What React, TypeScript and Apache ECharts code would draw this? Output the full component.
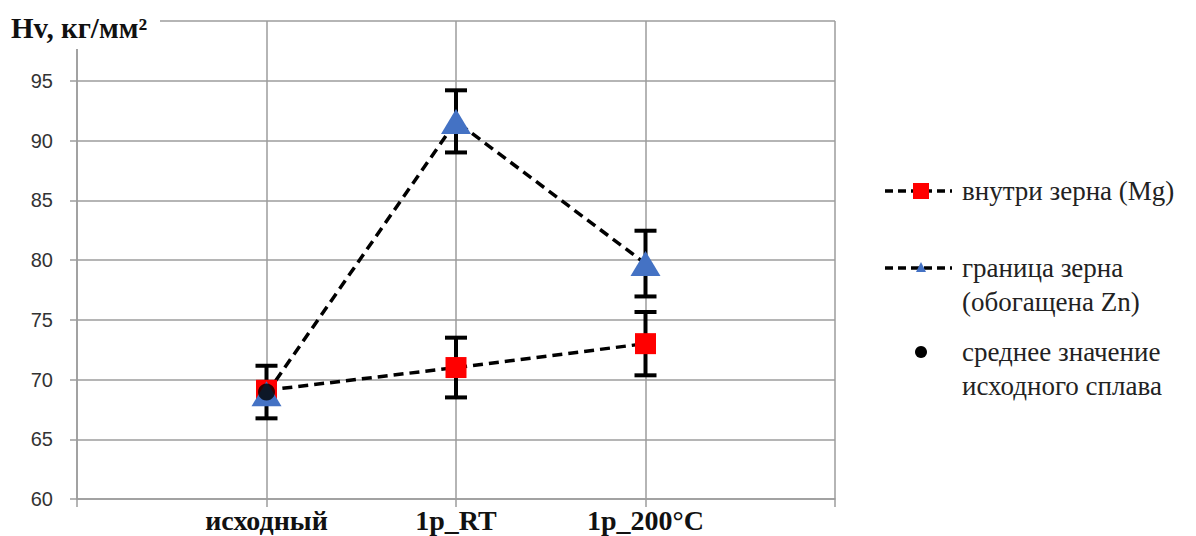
import React, { useEffect, useRef } from "react";
import * as echarts from "echarts";

const categories = ["исходный", "1p_RT", "1p_200°C"];
const grainValues = [69.1, 71.0, 73.0];
const grainErrors = [null, 2.5, 2.65];
const boundaryValues = [68.8, 91.6, 79.7];
const boundaryErrors = [null, 2.6, 2.75];
const avgValues = [68.95];
const avgErrors = [2.2];
const yTicks = { min: 60, max: 100, interval: 5 };

const SERIF = "Liberation Serif";
const SANS = "Liberation Sans";

function buildOption() {
  const axisCats = ["", ...categories, ""];
  const toPts = (vals: number[]) => vals.map((v, i) => [i + 1, v]);
  const errData: number[][] = [];
  const addErr = (vals: number[], errs: (number | null)[]) =>
    vals.forEach((v, i) => {
      const e = errs[i];
      if (e != null) errData.push([i + 1, v - e, v + e]);
    });
  addErr(grainValues, grainErrors);
  addErr(boundaryValues, boundaryErrors);
  addErr(avgValues, avgErrors);

  const dash = [10, 6];
  const gridColor = "#9c9c9c";
  const LFS = 27;
  const legendText = (text: string, cy: number) => ({
    type: "text",
    x: 962,
    y: cy - LFS / 2,
    style: { text, fontFamily: SERIF, fontSize: LFS, fill: "#222" },
  });
  return {
    animation: false,
    grid: { left: 77, top: 21, right: 361, bottom: 37 },
    xAxis: {
      type: "category",
      data: axisCats,
      boundaryGap: false,
      axisLine: { lineStyle: { color: gridColor, width: 1.5 } },
      axisTick: { show: true, length: 8, interval: 0, lineStyle: { color: gridColor, width: 1.5 } },
      splitLine: { show: true, interval: 0, lineStyle: { color: gridColor, width: 1.5 } },
      axisLabel: {
        interval: 0,
        margin: 7,
        fontFamily: SERIF,
        fontWeight: "bold",
        fontSize: 28,
        color: "#111",
      },
    },
    yAxis: {
      type: "value",
      min: yTicks.min,
      max: yTicks.max,
      interval: yTicks.interval,
      axisLine: { show: true, lineStyle: { color: gridColor, width: 1.5 } },
      axisTick: { show: true, length: 7, lineStyle: { color: gridColor, width: 1.5 } },
      splitLine: { show: true, lineStyle: { color: gridColor, width: 1.5 } },
      axisLabel: {
        margin: 24,
        fontFamily: SANS,
        fontSize: 20,
        color: "#333",
        formatter: (v: number) => (v === yTicks.max ? "" : String(v)),
      },
    },
    series: [
      {
        type: "custom",
        name: "errors",
        z: 2,
        data: errData,
        renderItem: (params: any, api: any) => {
          const x = api.value(0);
          const top = api.coord([x, api.value(2)]);
          const bot = api.coord([x, api.value(1)]);
          const hw = 11;
          const st = { stroke: "#000", lineWidth: 4 };
          return {
            type: "group",
            children: [
              { type: "line", shape: { x1: top[0], y1: top[1], x2: bot[0], y2: bot[1] }, style: st },
              { type: "line", shape: { x1: top[0] - hw, y1: top[1], x2: top[0] + hw, y2: top[1] }, style: st },
              { type: "line", shape: { x1: bot[0] - hw, y1: bot[1], x2: bot[0] + hw, y2: bot[1] }, style: st },
            ],
          };
        },
      },
      {
        type: "line",
        name: "внутри зерна (Mg)",
        z: 3,
        data: toPts(grainValues),
        symbol: "rect",
        symbolSize: 21,
        itemStyle: { color: "#ff0000" },
        lineStyle: { color: "#000", width: 3.5, type: dash },
      },
      {
        type: "line",
        name: "граница зерна (обогащена Zn)",
        z: 3,
        data: toPts(boundaryValues),
        symbol: "triangle",
        symbolSize: [30, 25],
        itemStyle: { color: "#4472c4" },
        lineStyle: { color: "#000", width: 3.5, type: dash },
      },
      {
        type: "scatter",
        name: "среднее значение исходного сплава",
        z: 4,
        data: toPts(avgValues),
        symbol: "circle",
        symbolSize: 17,
        itemStyle: { color: "#000" },
      },
    ],
    graphic: [
      { type: "rect", shape: { x: 0, y: 0, width: 160, height: 49 }, style: { fill: "#fff" }, z: 50 },
      {
        type: "text",
        x: 11,
        y: 13,
        z: 51,
        style: { text: "Hv, кг/мм²", fontFamily: SERIF, fontWeight: "bold", fontSize: 29, fill: "#111" },
      },
      { type: "line", shape: { x1: 885, y1: 191, x2: 952, y2: 191 }, style: { stroke: "#000", lineWidth: 3.5, lineDash: [8, 5] } },
      { type: "rect", shape: { x: 913, y: 183, width: 16, height: 16 }, style: { fill: "#ff0000" } },
      legendText("внутри зерна (Mg)", 191),
      { type: "line", shape: { x1: 885, y1: 268, x2: 952, y2: 268 }, style: { stroke: "#000", lineWidth: 3.5, lineDash: [8, 5] } },
      { type: "polygon", shape: { points: [[921, 262], [926, 272], [916, 272]] }, style: { fill: "#4472c4" } },
      legendText("граница зерна", 268),
      legendText("(обогащена Zn)", 302),
      { type: "circle", shape: { cx: 921, cy: 352, r: 6 }, style: { fill: "#000" } },
      legendText("среднее значение", 352),
      legendText("исходного сплава", 386),
    ],
  };
}

export default function App() {
  const ref = useRef<HTMLDivElement>(null);
  useEffect(() => {
    if (!ref.current) return;
    let disposed = false;
    let chart: echarts.ECharts | null = null;
    const start = () => {
      if (disposed || chart || !ref.current) return;
      chart = echarts.init(ref.current, null, { renderer: "svg" });
      chart.setOption(buildOption() as any);
    };
    const fonts: any = (document as any).fonts;
    if (fonts && fonts.load) {
      const loads = Promise.all([
        fonts.load(`27px "${SERIF}"`, "внутри Mg"),
        fonts.load(`bold 28px "${SERIF}"`, "исходный 1p_RT"),
        fonts.load(`20px "${SANS}"`, "95"),
      ]).catch(() => null);
      const timeout = new Promise((r) => setTimeout(r, 400));
      Promise.race([loads, timeout]).then(start);
    } else {
      start();
    }
    return () => {
      disposed = true;
      if (chart) chart.dispose();
    };
  }, []);
  return (
    <div>
      <div
        ref={ref}
        style={{ position: "fixed", left: 0, top: 0, width: 1196, height: 536, background: "#fff" }}
      />
      <div
        style={{ position: "fixed", left: 2, top: 2, color: "transparent", fontFamily: SERIF, fontSize: 10, pointerEvents: "none" }}
      >
        <span>и</span>
        <b>и</b>
      </div>
    </div>
  );
}
